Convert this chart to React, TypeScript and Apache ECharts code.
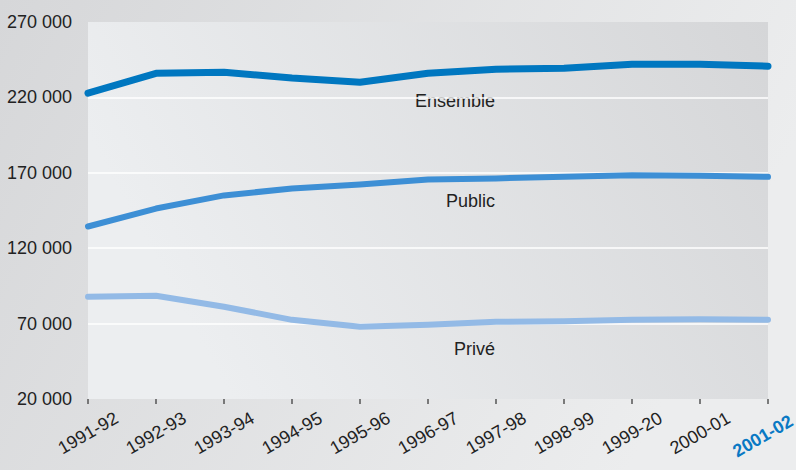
import React, { useEffect, useRef } from "react";
import * as echarts from "echarts";

const categories = [
  "1991-92", "1992-93", "1993-94", "1994-95", "1995-96", "1996-97",
  "1997-98", "1998-99", "1999-20", "2000-01", "2001-02",
];
const ensemble = [222800, 236000, 236700, 232800, 230100, 236000, 238700, 239400, 242000, 242000, 240700];
const publicValues = [134400, 146300, 155000, 159600, 162300, 165600, 166300, 167300, 168300, 168000, 167300];
const prive = [87800, 88500, 81200, 72500, 67900, 69200, 71200, 71500, 72500, 72900, 72500];
const yTicks = [20000, 70000, 120000, 170000, 220000, 270000];
const seriesNames = ["Ensemble", "Public", "Privé"];

const fmt = (v: number) => {
  const s = String(Math.round(v));
  return s.replace(/\B(?=(\d{3})+(?!\d))/g, " ");
};

export default function App() {
  const ref = useRef<HTMLDivElement>(null);
  useEffect(() => {
    document.body.style.margin = "0";
    if (!ref.current) return;
    const chart = echarts.init(ref.current, null, { renderer: "svg" });
    const font = "Arial";
    const lastIdx = categories.length - 1;
    chart.setOption({
      animation: false,
      backgroundColor: new echarts.graphic.LinearGradient(0, 0, 1, 0.3, [
        { offset: 0, color: "#d6d7d9" },
        { offset: 1, color: "#ecedee" },
      ]),
      grid: {
        left: 88,
        right: 28,
        top: 22,
        bottom: 71,
        show: true,
        borderWidth: 0,
        containLabel: false,
        outerBoundsMode: "none",
        backgroundColor: new echarts.graphic.LinearGradient(0, 0.3, 1, 0, [
          { offset: 0, color: "#eceef0" },
          { offset: 1, color: "#d5d6d8" },
        ]),
      },
      xAxis: {
        type: "category",
        data: categories,
        boundaryGap: false,
        axisLine: { show: false },
        axisTick: { show: true, length: 5, lineStyle: { color: "#555", width: 1.5 } },
        splitLine: { show: false },
        axisLabel: {
          show: true,
          rotate: 30,
          align: "center",
          verticalAlign: "middle",
          margin: 34,
          fontSize: 18,
          color: "#222",
          fontFamily: font,
          interval: 0,
          hideOverlap: false,
          formatter: (v: string, i: number) => (i === lastIdx ? `{last|${v}}` : v),
          rich: {
            last: { fontSize: 18, fontWeight: "bold", color: "#0a79c4", fontFamily: font, padding: [0, 12, 0, 0] },
          },
        },
      },
      yAxis: {
        type: "value",
        min: yTicks[0],
        max: yTicks[yTicks.length - 1],
        interval: 50000,
        axisLine: { show: false },
        axisTick: { show: false },
        splitLine: {
          show: true,
          lineStyle: {
            color: ["transparent", "#ffffff", "#ffffff", "#ffffff", "#ffffff", "transparent"],
            width: 1.5,
          },
        },
        axisLabel: {
          show: true,
          fontSize: 18,
          color: "#222",
          margin: 16,
          fontFamily: font,
          formatter: (v: number) => fmt(v),
        },
      },
      series: [
        { name: seriesNames[0], type: "line", data: ensemble, showSymbol: false, lineStyle: { color: "#0077c0", width: 7, cap: "round", join: "round" }, z: 3 },
        { name: seriesNames[1], type: "line", data: publicValues, showSymbol: false, lineStyle: { color: "#3d8fd5", width: 6, cap: "round", join: "round" }, z: 2 },
        { name: seriesNames[2], type: "line", data: prive, showSymbol: false, lineStyle: { color: "#93bae6", width: 6, cap: "round", join: "round" }, z: 1 },
      ],
      graphic: [
        { type: "text", x: 495, y: 101, style: { text: seriesNames[0], fontSize: 18, fill: "#222", align: "right", verticalAlign: "middle", fontFamily: font } },
        { type: "text", x: 495, y: 201, style: { text: seriesNames[1], fontSize: 18, fill: "#222", align: "right", verticalAlign: "middle", fontFamily: font } },
        { type: "text", x: 495, y: 349, style: { text: seriesNames[2], fontSize: 18, fill: "#222", align: "right", verticalAlign: "middle", fontFamily: font } },
      ],
    });
    return () => chart.dispose();
  }, []);
  return <div ref={ref} style={{ width: 796, height: 470 }} />;
}
